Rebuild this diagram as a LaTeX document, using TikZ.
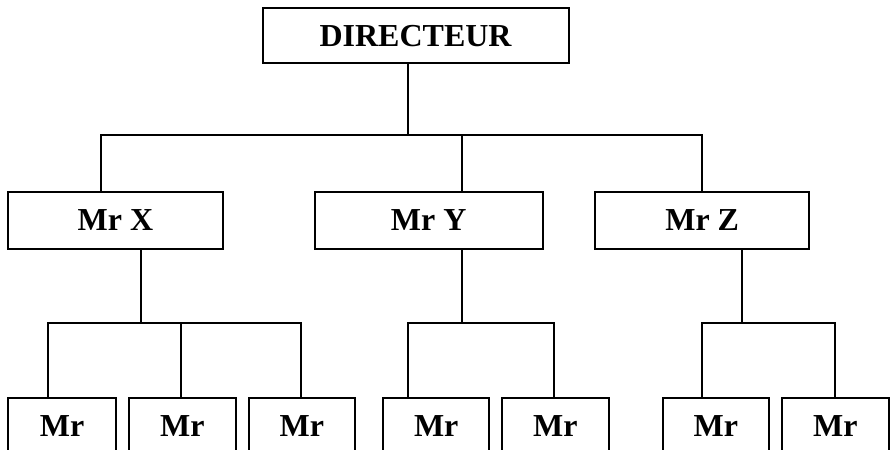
\documentclass[tikz,border=0pt]{standalone}
\usepackage{fontspec}
\setmainfont{Liberation Serif}
\begin{document}
\begin{tikzpicture}[x=1pt,y=-1pt,
  box/.style={draw, line width=1.8pt, anchor=north west, inner sep=0pt,
    font=\fontsize{32}{36}\selectfont\bfseries},
  link/.style={line width=1.8pt, line join=miter}]
\useasboundingbox (0,0) rectangle (892,450);
\clip (0,0) rectangle (892,450);

% top level
\node[box, minimum width=306pt, minimum height=55pt] (dir) at (261.7,7.3) {DIRECTEUR};

% second level
\node[box, minimum width=214.4pt, minimum height=56.7pt] (mx) at (7.3,191) {Mr X};
\node[box, minimum width=227.7pt, minimum height=56.7pt] (my) at (314,191) {Mr Y};
\node[box, minimum width=214pt, minimum height=56.7pt] (mz) at (594.3,191) {Mr Z};

% third level
\node[box, minimum width=107.7pt, minimum height=57pt] (b1) at (7.3,397) {Mr};
\node[box, minimum width=107.3pt, minimum height=57pt] (b2) at (127.7,397) {Mr};
\node[box, minimum width=106.6pt, minimum height=57pt] (b3) at (247.7,397) {Mr};
\node[box, minimum width=106pt, minimum height=57pt] (b4) at (382.3,397) {Mr};
\node[box, minimum width=107.6pt, minimum height=57pt] (b5) at (500.7,397) {Mr};
\node[box, minimum width=106.6pt, minimum height=57pt] (b6) at (661.7,397) {Mr};
\node[box, minimum width=106.7pt, minimum height=57pt] (b7) at (781,397) {Mr};

% junction points
\coordinate (d0) at (408.3,135);
\coordinate (tl) at (101,135);
\coordinate (ty) at (461.7,135);
\coordinate (tr) at (701.7,135);

\coordinate (xd) at (141.3,323);
\coordinate (xl) at (47.7,323);
\coordinate (xm) at (181,323);
\coordinate (xr) at (301,323);

\coordinate (yd) at (461.7,323);
\coordinate (yl) at (407.7,323);
\coordinate (yr) at (554.3,323);

\coordinate (zd) at (741.7,323);
\coordinate (zl) at (701.7,323);
\coordinate (zr) at (835,323);

% director to managers
\draw[link] (d0 |- dir.south) -- (d0);
\draw[link] (tl |- mx.north) -- (tl) -- (tr) -- (tr |- mz.north);
\draw[link] (ty) -- (ty |- my.north);

% Mr X branch
\draw[link] (xd |- mx.south) -- (xd);
\draw[link] (xl |- b1.north) -- (xl) -- (xr) -- (xr |- b3.north);
\draw[link] (xm) -- (xm |- b2.north);

% Mr Y branch
\draw[link] (yd |- my.south) -- (yd);
\draw[link] (yl |- b4.north) -- (yl) -- (yr) -- (yr |- b5.north);

% Mr Z branch
\draw[link] (zd |- mz.south) -- (zd);
\draw[link] (zl |- b6.north) -- (zl) -- (zr) -- (zr |- b7.north);
\end{tikzpicture}
\end{document}
